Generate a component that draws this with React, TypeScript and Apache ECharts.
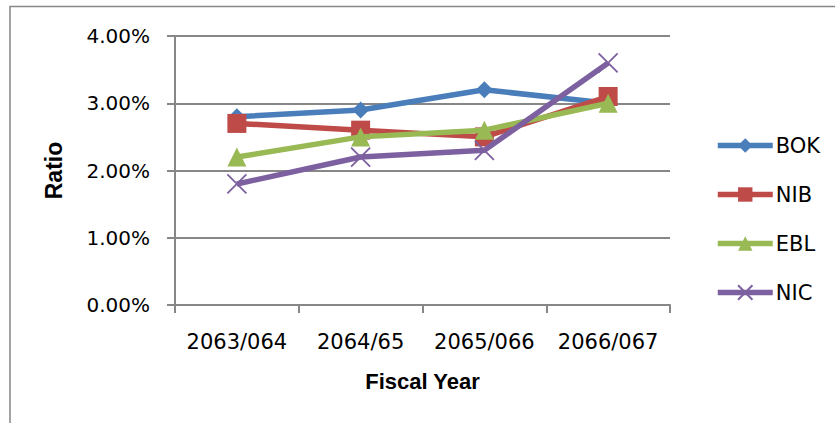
import React, { useEffect, useRef } from "react";
import * as echarts from "echarts";

const categories = ["2063/064", "2064/65", "2065/066", "2066/067"];
const bok = [2.8, 2.9, 3.2, 3.0];
const nib = [2.7, 2.6, 2.5, 3.1];
const ebl = [2.2, 2.5, 2.6, 3.0];
const nic = [1.8, 2.2, 2.3, 3.6];
const seriesNames = ["BOK", "NIB", "EBL", "NIC"];
const colors = ["#4A7EBB", "#BE4B48", "#98B954", "#7D60A0"];

const AXIS_GRAY = "#878787";
const TICK_FONT = "DejaVu Sans";

export default function App() {
  const ref = useRef<HTMLDivElement>(null);
  useEffect(() => {
    if (!ref.current) return;
    const chart = echarts.init(ref.current, null, { renderer: "svg" });
    const data = [bok, nib, ebl, nic];
    const symbols = ["diamond", "rect", "triangle", "path://M0,0L10,10M10,0L0,10"];
    const sizes = [17, 19, 19, 19];
    chart.setOption({
      animation: false,
      backgroundColor: "#ffffff",
      graphic: [
        {
          type: "rect",
          shape: { x: 10, y: 6.5, width: 900, height: 500 },
          style: { fill: "none", stroke: AXIS_GRAY, lineWidth: 1.5 },
          silent: true,
        },
      ],
      grid: { left: 175, right: 165, top: 36, bottom: 118 },
      legend: {
        orient: "vertical",
        left: 710,
        top: 130,
        itemWidth: 55,
        itemHeight: 18,
        itemGap: 28,
        data: seriesNames,
        lineStyle: { width: 5.5 },
        textStyle: { fontFamily: TICK_FONT, fontSize: 21, color: "#000", padding: [0, 0, 0, -2], lineHeight: 20 },
      },
      xAxis: {
        type: "category",
        data: categories,
        boundaryGap: true,
        axisLine: { lineStyle: { color: AXIS_GRAY, width: 2 } },
        axisTick: { show: true, length: 8, interval: 0, lineStyle: { color: AXIS_GRAY, width: 2 } },
        axisLabel: { fontFamily: TICK_FONT, fontSize: 21, color: "#000", margin: 26, interval: 0 },
        name: "Fiscal Year",
        nameLocation: "middle",
        nameGap: 65,
        nameTextStyle: { fontFamily: "Liberation Sans", fontWeight: "bold", fontSize: 22, color: "#000" },
      },
      yAxis: {
        type: "value",
        min: 0,
        max: 4,
        interval: 1,
        axisLine: { show: true, lineStyle: { color: AXIS_GRAY, width: 2 } },
        axisTick: { show: true, length: 8, lineStyle: { color: AXIS_GRAY, width: 2 } },
        splitLine: { lineStyle: { color: AXIS_GRAY, width: 2 } },
        axisLabel: {
          fontFamily: TICK_FONT,
          fontSize: 20,
          color: "#000",
          margin: 25,
          formatter: (v: number) => v.toFixed(2) + "%",
        },
        name: "Ratio",
        nameLocation: "middle",
        nameGap: 110,
        nameRotate: 90,
        nameTextStyle: { fontFamily: "Liberation Sans", fontWeight: "bold", fontSize: 23, color: "#000" },
      },
      series: seriesNames.map((name, i) => ({
        name,
        type: "line",
        data: data[i],
        symbol: symbols[i],
        symbolSize: sizes[i],
        lineStyle: { color: colors[i], width: 5.5 },
        itemStyle:
          i === 3
            ? { color: "rgba(0,0,0,0)", borderColor: colors[i], borderWidth: 1.8 }
            : { color: colors[i], borderWidth: 0 },
        z: 2 + i,
      })),
    });
    return () => chart.dispose();
  }, []);
  return (
    <div
      ref={ref}
      style={{ position: "fixed", left: 0, top: 0, width: 835, height: 423 }}
    />
  );
}
